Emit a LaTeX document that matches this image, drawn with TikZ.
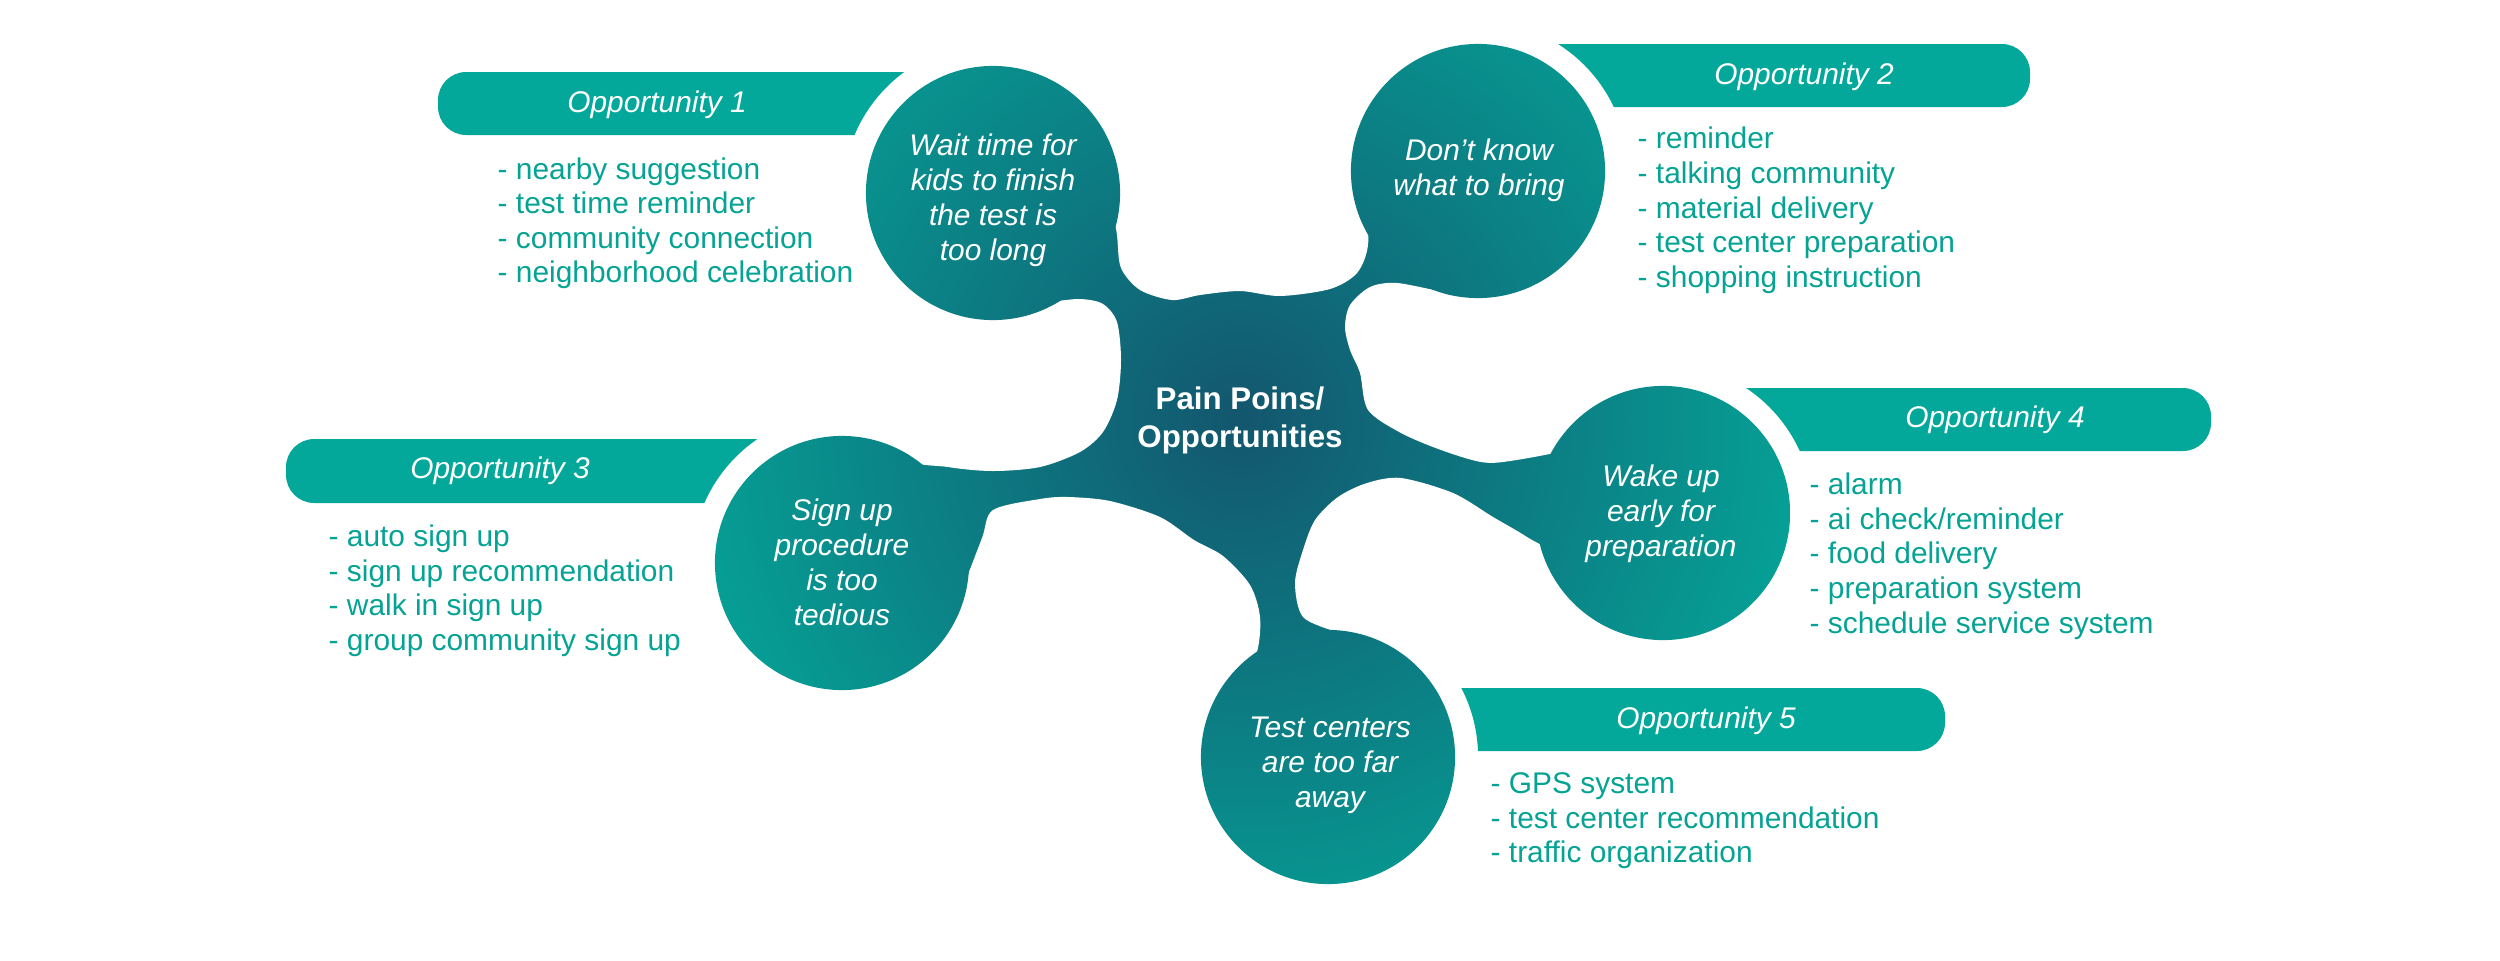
\documentclass[tikz,border=0pt]{standalone}
\usepackage{fontspec}
\setmainfont{Liberation Sans}
\definecolor{cdark}{RGB}{19,86,110}
\definecolor{clight}{RGB}{4,170,155}
\definecolor{barc}{RGB}{3,168,154}
\definecolor{itemc}{RGB}{5,163,148}
\tikzset{
  oppbar/.style={fill=barc, rounded corners=8pt},
  opptitle/.style={text=white, inner sep=0pt, font=\fontsize{8.5}{10}\selectfont\itshape},
  oppitem/.style={text=itemc, inner sep=0pt, anchor=base west, font=\fontsize{8.5}{10}\selectfont},
  paintext/.style={text=white, inner sep=0pt, align=center, font=\fontsize{8.5}{9.96}\selectfont\itshape},
  hubtext/.style={text=white, inner sep=0pt, align=center, font=\fontsize{8.9}{10.8}\selectfont\bfseries},
  gap/.style={fill=white},
  blobshade/.style={inner color=cdark, outer color=clight}
}
\begin{document}
\begin{tikzpicture}[x=0.01cm,y=-0.01cm]
\useasboundingbox (0,0) rectangle (2500,960);
\coordinate (hubc) at (1240,420);
\coordinate (c1) at (993,193);
\coordinate (c2) at (1478,171);
\coordinate (c3) at (842,563);
\coordinate (c4) at (1663,513);
\coordinate (c5) at (1328,757);

% central body
\begin{scope}
\clip (c1) -- (c2) -- (c4) -- (c5) -- (c3) -- cycle;
\shade[blobshade] (hubc) circle[radius=6.4cm];
\end{scope}

% white gaps between arms
\fill[gap] plot[smooth cycle] coordinates {(1117,235) (1121,268) (1140,290) (1172,300) (1200,295) (1240,291) (1280,296) (1330,289) (1357,273) (1368,245) (1365,200) (1345,110) (1240,60) (1135,110) (1112,190)};
\fill[gap] plot[smooth cycle] coordinates {(960,290) (1040,301) (1080,299) (1103,304) (1117,322) (1121,360) (1117,400) (1103,432) (1080,452) (1040,467) (993,471) (948,467) (895,455) (820,380)};
\fill[gap] plot[smooth cycle] coordinates {(1350,305) (1370,287) (1397,283) (1447,292) (1480,290) (1560,260) (1640,330) (1655,420) (1575,448) (1510,461) (1481,462) (1441,450) (1401,433) (1368,410) (1360,373) (1350,350) (1345,327)};
\fill[gap] plot[smooth cycle] coordinates {(993,510) (1040,499) (1068,497) (1110,501) (1160,517) (1194,540) (1223,556) (1250,585) (1260,617) (1257,652) (1240,690) (1210,760) (1100,775) (940,645) (962,590) (982,538)};
\fill[gap] plot[smooth cycle] coordinates {(1315,520) (1338,497) (1367,483) (1401,478) (1453,493) (1493,517) (1527,537) (1575,570) (1590,640) (1440,720) (1360,645) (1338,633) (1303,617) (1295,583) (1303,550)};

% pain point circles
\begin{scope}
\clip (c1) circle[radius=1.27cm] (c2) circle[radius=1.27cm] (c3) circle[radius=1.27cm] (c4) circle[radius=1.27cm] (c5) circle[radius=1.27cm];
\shade[blobshade] (hubc) circle[radius=6.4cm];
\end{scope}

% opportunity bars
\begin{scope}[even odd rule]
\clip (2500,0) rectangle (0,960) (c1) circle[radius=1.5cm];
\fill[oppbar] (438,72) rectangle (990,135);
\end{scope}
\begin{scope}[even odd rule]
\clip (2500,0) rectangle (0,960) (c2) circle[radius=1.5cm];
\fill[oppbar] (1470,44) rectangle (2030,107);
\end{scope}
\begin{scope}[even odd rule]
\clip (2500,0) rectangle (0,960) (c3) circle[radius=1.5cm];
\fill[oppbar] (286,439) rectangle (840,503);
\end{scope}
\begin{scope}[even odd rule]
\clip (2500,0) rectangle (0,960) (c4) circle[radius=1.5cm];
\fill[oppbar] (1660,388) rectangle (2211,451);
\end{scope}
\begin{scope}[even odd rule]
\clip (2500,0) rectangle (0,960) (c5) circle[radius=1.5cm];
\fill[oppbar] (1330,688) rectangle (1945,751);
\end{scope}

% texts
\node[hubtext] (hub) at (1240,420) {Pain Poins/\\Opportunities};
\node[paintext] (p1) at (993,200) {Wait time for\\kids to finish\\the test is\\too long};
\node[paintext] (p2) at (1479,170) {Don’t know\\what to bring};
\node[paintext] (p3) at (842,562) {Sign up\\procedure\\is too\\tedious};
\node[paintext] (p4) at (1661,514) {Wake up\\early for\\preparation};
\node[paintext] (p5) at (1330,765) {Test centers\\are too far\\away};

\node[opptitle] (o1) at (657,105) {Opportunity 1};
\node[opptitle] (o2) at (1804,77) {Opportunity 2};
\node[opptitle] (o3) at (500,471) {Opportunity 3};
\node[opptitle] (o4) at (1995,420) {Opportunity 4};
\node[opptitle] (o5) at (1706,721) {Opportunity 5};

\node[oppitem] (o1a) at (497,179) {- nearby suggestion};
\node[oppitem] (o1b) at (497,213) {- test time reminder};
\node[oppitem] (o1c) at (497,248) {- community connection};
\node[oppitem] (o1d) at (497,282) {- neighborhood celebration};

\node[oppitem] (o2a) at (1637,148) {- reminder};
\node[oppitem] (o2b) at (1637,183) {- talking community};
\node[oppitem] (o2c) at (1637,218) {- material delivery};
\node[oppitem] (o2d) at (1637,252) {- test center preparation};
\node[oppitem] (o2e) at (1637,287) {- shopping instruction};

\node[oppitem] (o3a) at (328,546) {- auto sign up};
\node[oppitem] (o3b) at (328,581) {- sign up recommendation};
\node[oppitem] (o3c) at (328,615) {- walk in sign up};
\node[oppitem] (o3d) at (328,650) {- group community sign up};

\node[oppitem] (o4a) at (1809,494) {- alarm};
\node[oppitem] (o4b) at (1809,529) {- ai check/reminder};
\node[oppitem] (o4c) at (1809,563) {- food delivery};
\node[oppitem] (o4d) at (1809,598) {- preparation system};
\node[oppitem] (o4e) at (1809,633) {- schedule service system};

\node[oppitem] (o5a) at (1490,793) {- GPS system};
\node[oppitem] (o5b) at (1490,828) {- test center recommendation};
\node[oppitem] (o5c) at (1490,862) {- traffic organization};
\end{tikzpicture}
\end{document}
